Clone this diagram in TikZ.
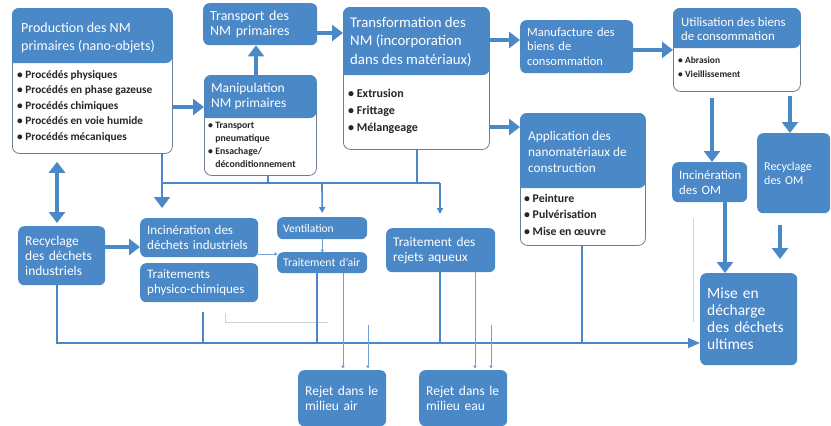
\documentclass[tikz,border=0pt]{standalone}
\usepackage{fontspec}
\setmainfont{Carlito}
\usepackage{xcolor}
\definecolor{nm-blue}{HTML}{4A88C7}
\definecolor{nm-border}{HTML}{6E7C91}
\definecolor{nm-faint}{HTML}{CBD5DF}
\usetikzlibrary{
  arrows.meta,
  positioning,
  calc
}

\begin{document}
\begin{tikzpicture}[
    x=1pt, y=-1pt,
    card/.style={
      draw=nm-border,
      fill=white,
      line width=0.8pt,
      rounded corners=7pt,
      anchor=north west,
      inner sep=0pt
    },
    blk/.style={
      fill=nm-blue,
      text=white,
      rounded corners=6pt,
      anchor=north west,
      align=left,
      inner xsep=7pt,
      inner ysep=0pt
    },
    head/.style={text=white, align=left, anchor=north west, inner sep=0pt},
    items/.style={text=black!85, align=left, anchor=north west, inner sep=0pt},
    flow/.style={
      -{Triangle[length=11pt,width=16pt]},
      line width=4pt,
      draw=nm-blue
    },
    bus/.style={line width=1.6pt, draw=nm-blue},
    tip/.style={-{Triangle[length=6pt,width=6pt]}},
    thinflow/.style={line width=0.7pt, draw=nm-blue!80, -{Circle[length=3pt]}},
    faint/.style={line width=0.6pt, draw=nm-faint}
  ]
    \useasboundingbox (0,0) rectangle (831,426);

    % production des NM primaires
    \node[card, minimum width=160pt, minimum height=145pt] (prod) at (12,8) {};
    \fill[nm-blue, rounded corners=7pt] ([shift={(0,55)}]prod.north west) |- (prod.north)
      -| ([shift={(0,55)}]prod.north east) [sharp corners] -- cycle;
    \node[head, font=\fontsize{14}{18}\selectfont] (prodhd) at ([shift={(9,15)}]prod.north west)
      {Production des NM\\primaires (nano-objets)};
    \node[items, font=\bfseries\fontsize{11.3}{15.5}\selectfont] (prodit) at ([shift={(5,62)}]prod.north west)
      {• Procédés physiques\\• Procédés en phase gazeuse\\• Procédés chimiques\\• Procédés en voie humide\\• Procédés mécaniques};

    % manipulation
    \node[card, minimum width=112pt, minimum height=100pt] (manip) at (204,75) {};
    \fill[nm-blue, rounded corners=7pt] ([shift={(0,43)}]manip.north west) |- (manip.north)
      -| ([shift={(0,43)}]manip.north east) [sharp corners] -- cycle;
    \node[head, font=\fontsize{13.5}{15}\selectfont] (maniphd) at ([shift={(7,8)}]manip.north west)
      {Manipulation\\NM primaires};
    \node[items, font=\bfseries\fontsize{9.8}{13}\selectfont] (manipit) at ([shift={(4,47)}]manip.north west)
      {• Transport\\\phantom{• }pneumatique\\• Ensachage/\\\phantom{• }déconditionnement};

    % transport
    \node[blk, minimum width=114pt, text width=100pt, minimum height=42pt,
      font=\fontsize{14}{15}\selectfont] (transp) at (203,3) {Transport des\\NM primaires};

    % transformation
    \node[card, minimum width=146pt, minimum height=142pt] (transf) at (343,7) {};
    \fill[nm-blue, rounded corners=7pt] ([shift={(0,68)}]transf.north west) |- (transf.north)
      -| ([shift={(0,68)}]transf.north east) [sharp corners] -- cycle;
    \node[head, font=\fontsize{14.8}{18.5}\selectfont] (transfhd) at ([shift={(7,10)}]transf.north west)
      {Transformation des\\NM (incorporation\\dans des matériaux)};
    \node[items, font=\bfseries\fontsize{12}{17}\selectfont] (transfit) at ([shift={(5,82)}]transf.north west)
      {• Extrusion\\• Frittage\\• Mélangeage};

    % manufacture
    \node[blk, minimum width=113pt, text width=99pt, minimum height=53pt,
      font=\fontsize{12.5}{14.5}\selectfont] (manuf) at (520,20) {Manufacture des\\biens de\\consommation};

    % application
    \node[card, minimum width=125pt, minimum height=132pt] (appl) at (520,113) {};
    \fill[nm-blue, rounded corners=7pt] ([shift={(0,75)}]appl.north west) |- (appl.north)
      -| ([shift={(0,75)}]appl.north east) [sharp corners] -- cycle;
    \node[head, font=\fontsize{13.3}{16}\selectfont] (applhd) at ([shift={(8,18)}]appl.north west)
      {Application des\\nanomatériaux de\\construction};
    \node[items, font=\bfseries\fontsize{11.8}{16.5}\selectfont] (applit) at ([shift={(4,81)}]appl.north west)
      {• Peinture\\• Pulvérisation\\• Mise en œuvre};

    % utilisation
    \node[card, minimum width=127pt, minimum height=83pt] (util) at (673,8) {};
    \fill[nm-blue, rounded corners=7pt] ([shift={(0,40)}]util.north west) |- (util.north)
      -| ([shift={(0,40)}]util.north east) [sharp corners] -- cycle;
    \node[head, font=\fontsize{12.8}{14.5}\selectfont] (utilhd) at ([shift={(8,9)}]util.north west)
      {Utilisation des biens\\de consommation};
    \node[items, font=\bfseries\fontsize{9.5}{14}\selectfont] (utilit) at ([shift={(5,49)}]util.north west)
      {• Abrasion\\• Vieillissement};

    % fin de vie
    \node[blk, minimum width=75pt, text width=61pt, minimum height=40pt,
      font=\fontsize{12.8}{15}\selectfont] (incdm) at (672,162) {Incinération\\des OM};
    \node[blk, minimum width=73pt, text width=59pt, minimum height=80pt,
      font=\fontsize{12}{14.5}\selectfont] (recom) at (757,133) {Recyclage\\des OM};
    \node[blk, minimum width=97pt, text width=83pt, minimum height=92pt,
      font=\fontsize{15.5}{17}\selectfont] (mise) at (700,273) {Mise en\\décharge\\des déchets\\ultimes};

    % dechets industriels
    \node[blk, minimum width=87pt, text width=73pt, minimum height=59pt,
      font=\fontsize{13.5}{15}\selectfont] (recind) at (18,226) {Recyclage\\des déchets\\industriels};
    \node[blk, minimum width=118pt, text width=104pt, minimum height=39pt,
      font=\fontsize{13}{15}\selectfont] (incin) at (140,218) {Incinération des\\déchets industriels};
    \node[blk, minimum width=118pt, text width=104pt, minimum height=39pt,
      font=\fontsize{13}{15}\selectfont] (physch) at (140,263) {Traitements\\physico-chimiques};
    \node[blk, minimum width=90pt, text width=78pt, minimum height=22pt, inner xsep=6pt,
      font=\fontsize{11.5}{13}\selectfont] (vent) at (277,217) {Ventilation};
    \node[blk, minimum width=90pt, text width=78pt, minimum height=21pt, inner xsep=6pt,
      font=\fontsize{11.8}{13}\selectfont] (tair) at (277,252) {Traitement d'air};
    \node[blk, minimum width=109pt, text width=95pt, minimum height=44pt,
      font=\fontsize{13.3}{15}\selectfont] (trej) at (386,228) {Traitement des\\rejets aqueux};

    % rejets
    \node[blk, minimum width=88pt, text width=74pt, minimum height=56pt,
      font=\fontsize{13.5}{15}\selectfont] (rejair) at (298,370) {Rejet dans le\\milieu air};
    \node[blk, minimum width=88pt, text width=74pt, minimum height=56pt,
      font=\fontsize{13.5}{15}\selectfont] (rejeau) at (419,370) {Rejet dans le\\milieu eau};

    % points of the connectors
    \coordinate (lvlpm) at (0,107);
    \coordinate (colmt) at (256,0);
    \coordinate (lvltt) at (0,33);
    \coordinate (lvltm) at (0,40);
    \coordinate (lvlta) at (0,127);
    \coordinate (colui) at (712,0);
    \coordinate (colur) at (790,0);
    \coordinate (colim) at (725,0);
    \coordinate (colrm) at (780,0);
    \coordinate (colpr) at (57,0);
    \coordinate (lvlri) at (0,247);
    \coordinate (lvlit) at (0,254);
    \coordinate (jprod) at (162,183);
    \coordinate (jmanip) at (268,183);
    \coordinate (jvent) at (322,183);
    \coordinate (jtransf) at (417,183);
    \coordinate (jtrej) at (440,183);
    \coordinate (brecind) at (57,343);
    \coordinate (bphys) at (203,343);
    \coordinate (btair) at (317,343);
    \coordinate (btrej) at (440,343);
    \coordinate (bappl) at (582,343);
    \coordinate (air1) at (343,0);
    \coordinate (air2) at (368,325);
    \coordinate (eau1) at (475,0);
    \coordinate (eau2) at (491,325);
    \coordinate (fa1) at (693,218);
    \coordinate (fa2) at (693,322);
    \coordinate (fb1) at (225,313);
    \coordinate (fb2) at (328,322);

    % faint lines
    \draw[faint] (fa1) -- (fa2);
    \draw[faint] (fb1) |- (fb2);

    % main flow
    \draw[flow] (prod.east |- lvlpm) -- (manip.west |- lvlpm);
    \draw[flow] (manip.north -| colmt) -- (transp.south -| colmt);
    \draw[flow] (transp.east |- lvltt) -- (transf.west |- lvltt);
    \draw[flow] (transf.east |- lvltm) -- (manuf.west |- lvltm);
    \draw[flow] (transf.east |- lvlta) -- (appl.west |- lvlta);
    \draw[flow] (manuf.east |- util.west) -- (util.west);
    \draw[flow, shorten <=6pt] (util.south -| colui) -- (incdm.north -| colui);
    \draw[flow, shorten <=4pt] (util.south -| colur) -- (recom.north -| colur);
    \draw[flow] (incdm.south -| colim) -- (mise.north -| colim);
    \draw[flow, shorten <=12pt, shorten >=14pt] (recom.south -| colrm) -- (mise.north -| colrm);
    \draw[flow, {Triangle[length=11pt,width=16pt]}-{Triangle[length=11pt,width=16pt]},
      shorten <=8pt, shorten >=3pt] (prod.south -| colpr) -- (recind.north -| colpr);
    \draw[flow] (recind.east |- lvlri) -- (incin.west |- lvlri);

    % upper collector
    \draw[bus, -{Triangle[length=11pt,width=16pt]}, shorten >=10pt] (prod.south -| jprod) -- (incin.north -| jprod);
    \draw[bus] (manip.south -| jmanip) -- (jmanip);
    \draw[bus] (transf.south -| jtransf) -- (jtransf);
    \draw[bus] (jprod) -- (jtrej);
    \draw[bus, tip, shorten >=4pt] (jvent) -- (vent.north);
    \draw[bus, tip, shorten >=14pt] (jtrej) -- (trej.north -| jtrej);
    \draw[thinflow] (vent.south) -- (tair.north);
    \draw[thinflow] (incin.east |- lvlit) -- (tair.west |- lvlit);

    % lower collector
    \draw[bus, -{Triangle[length=12pt,width=10pt]}] (recind.south -| brecind) -- (brecind) -- (mise.west |- brecind);
    \draw[bus, shorten <=10pt] (physch.south -| bphys) -- (bphys);
    \draw[bus] (tair.south -| btair) -- (btair);
    \draw[bus] (trej.south -| btrej) -- (btrej);
    \draw[bus] (appl.south -| bappl) -- (bappl);

    % releases
    \draw[thinflow, shorten >=2pt] (tair.south -| air1) -- (rejair.north -| air1);
    \draw[thinflow, shorten >=2pt] (air2) -- (rejair.north -| air2);
    \draw[thinflow, shorten >=2pt] (trej.south -| eau1) -- (rejeau.north -| eau1);
    \draw[thinflow, shorten >=2pt] (eau2) -- (rejeau.north -| eau2);
  \end{tikzpicture}
\end{document}
